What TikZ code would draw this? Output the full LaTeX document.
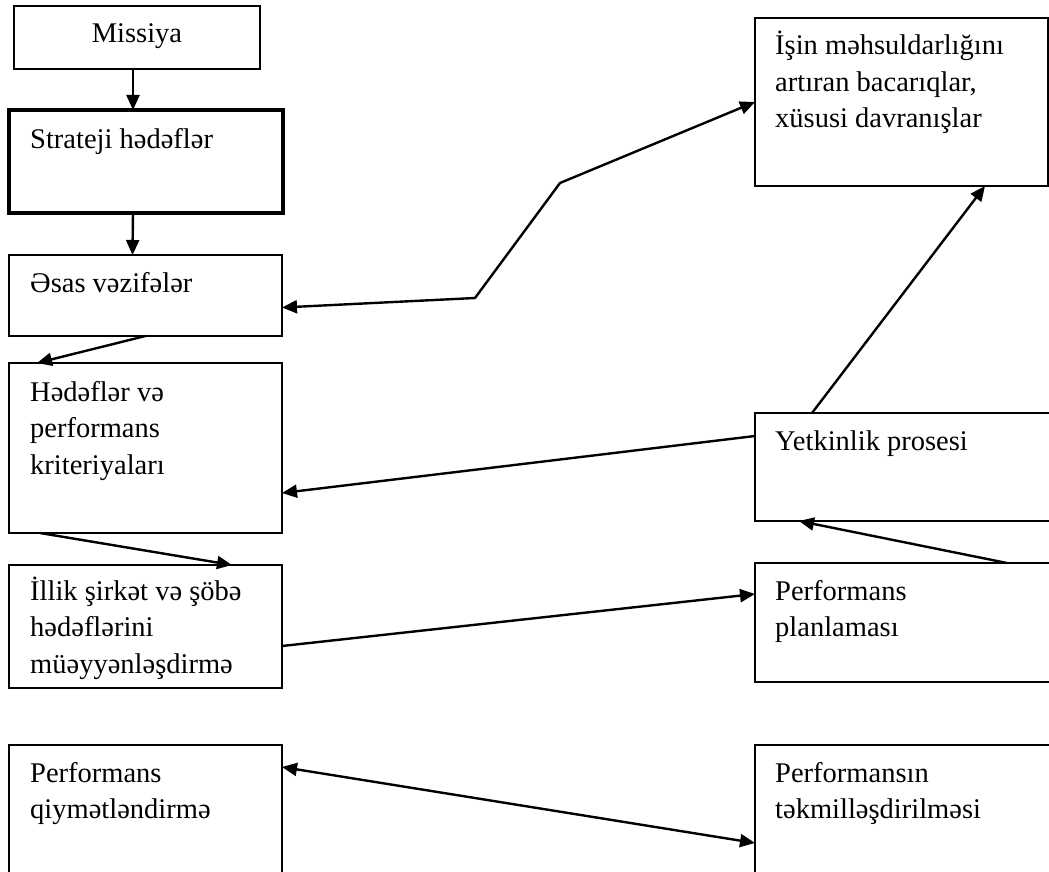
\documentclass[tikz,border=0pt]{standalone}
\usepackage{fontspec}
\setmainfont{Liberation Serif}
\usetikzlibrary{arrows.meta}
\newcommand{\mlines}[1]{\begin{tabular}[t]{@{}l@{}}#1\end{tabular}}
\begin{document}
\begin{tikzpicture}[x=1pt,y=-1pt,
  box/.style={draw, line width=2.2pt, anchor=north west, inner sep=0pt, outer sep=0pt},
  lbl/.style={anchor=base west, inner sep=0pt, font=\fontsize{28.5}{36.5}\selectfont},
  arr/.style={-{Triangle[length=15pt,width=13pt]}, line width=2.4pt},
  darr/.style={{Triangle[length=15pt,width=13pt]}-{Triangle[length=15pt,width=13pt]}, line width=2.4pt}]
\useasboundingbox (0,0) rectangle (1049,872);
% left column
\node[box, minimum width=246pt, minimum height=63pt] (m) at (14,6) {};
\node[box, line width=3.4pt, minimum width=274pt, minimum height=103pt] (s) at (9,110) {};
\node[box, minimum width=273pt, minimum height=81pt] (e) at (9,255) {};
\node[box, minimum width=273pt, minimum height=170pt] (h) at (9,363) {};
\node[box, minimum width=273pt, minimum height=123pt] (i) at (9,565) {};
\node[box, minimum width=273pt, minimum height=140pt] (q) at (9,745) {};
% right column
\node[box, minimum width=293pt, minimum height=168pt] (w) at (755,18) {};
\node[box, minimum width=310pt, minimum height=108pt] (y) at (755,413) {};
\node[box, minimum width=310pt, minimum height=119pt] (p) at (755,563) {};
\node[box, minimum width=310pt, minimum height=140pt] (t) at (755,745) {};
% texts
\node[lbl, anchor=base] (mt) at (137,43) {Missiya};
\node[lbl] (st) at (30,148) {Strateji hədəflər};
\node[lbl] (et) at (30,292) {Əsas vəzifələr};
\node[lbl] (ht) at (30,401) {\mlines{Hədəflər və\\performans\\kriteriyaları}};
\node[lbl] (it) at (30,600) {\mlines{İllik şirkət və şöbə\\hədəflərini\\müəyyənləşdirmə}};
\node[lbl] (qt) at (30,782) {\mlines{Performans\\qiymətləndirmə}};
\node[lbl] (wt) at (775,55) {\mlines{İşin məhsuldarlığını\\artıran bacarıqlar,\\xüsusi davranışlar}};
\node[lbl] (yt) at (775,450) {Yetkinlik prosesi};
\node[lbl] (pt) at (775,600) {\mlines{Performans\\planlaması}};
\node[lbl] (tt) at (775,782) {\mlines{Performansın\\təkmilləşdirilməsi}};
% connectors
\draw[arr] ([xshift=-4pt]m.south) -- ([xshift=-13pt]s.north);
\draw[arr] ([xshift=-13pt]s.south) -- ([xshift=-13pt]e.north);
\draw[arr] (e.south) -- ([xshift=28pt]h.north west);
\draw[arr] ([xshift=31pt]h.south west) -- ([xshift=223pt]i.north west);
\coordinate (b1) at (475,298);
\coordinate (b2) at (560,183);
\draw[darr] ([yshift=-12pt]e.east) -- (b1) -- (b2) -- (w.west);
\draw[arr] ([xshift=57pt]y.north west) -- ([xshift=230pt]w.south west);
\draw[arr] ([yshift=31pt]y.west) -- ([yshift=-45pt]h.east);
\draw[arr] ([xshift=252pt]p.north west) -- ([xshift=44pt]y.south west);
\draw[arr] ([yshift=-19.5pt]i.east) -- ([yshift=28.5pt]p.west);
\draw[darr] ([yshift=-22pt]q.north east) -- ([yshift=-98pt]t.north west);
\end{tikzpicture}
\end{document}
